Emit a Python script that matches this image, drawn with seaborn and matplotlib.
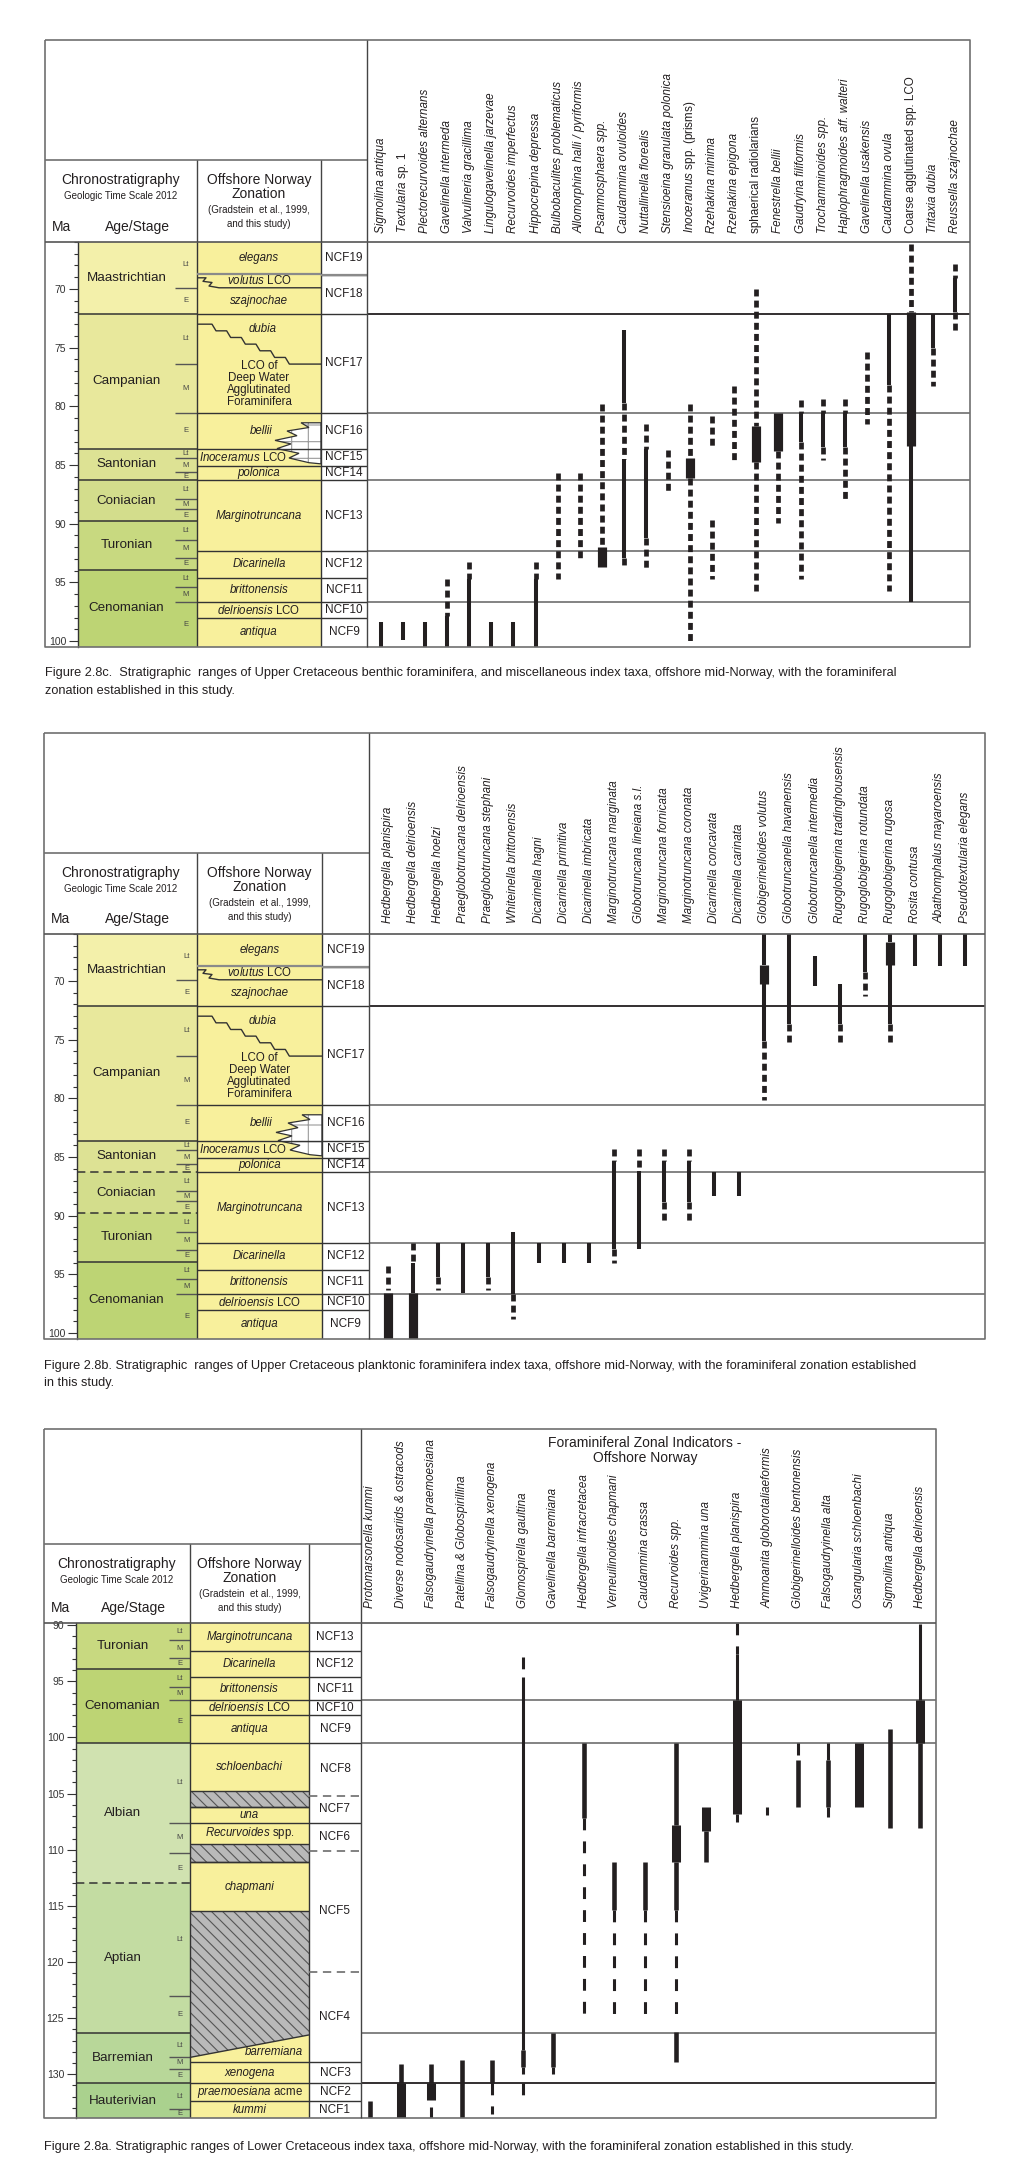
import numpy as np
import pandas as pd
import matplotlib.pyplot as plt
import seaborn as sns
from matplotlib.patches import Polygon
from matplotlib.ticker import MultipleLocator

sns.set_theme(style="white")
plt.rcParams["font.family"] = ["Liberation Sans", "DejaVu Sans"]
plt.rcParams.update({
    "mathtext.fontset": "custom",
    "mathtext.rm": "Liberation Sans",
    "mathtext.it": "Liberation Sans:italic",
    "lines.scale_dashes": False,
    "lines.solid_capstyle": "butt",
    "lines.dash_capstyle": "butt",
    "hatch.linewidth": 0.8,
    "text.color": "#231f20",
})

# ---------------- chronostratigraphy (Ma) ----------------
stage_names_upper = ["Maastrichtian", "Campanian", "Santonian", "Coniacian", "Turonian", "Cenomanian"]
stage_tops_upper = [66.0, 72.1, 83.6, 86.3, 89.8, 93.9]
stage_bases_upper = [72.1, 83.6, 86.3, 89.8, 93.9, 100.5]
stage_colors_upper = ["#f3f0aa", "#e8e89c", "#dde294", "#d3dd8c", "#c8d980", "#bdd474"]

stage_names_lower = ["Turonian", "Cenomanian", "Albian", "Aptian", "Barremian", "Hauterivian"]
stage_tops_lower = [89.8, 93.9, 100.5, 113.0, 126.3, 130.8]
stage_bases_lower = [93.9, 100.5, 113.0, 126.3, 130.8, 133.9]
stage_colors_lower = ["#c8d980", "#bdd474", "#d0e2b0", "#c3dca2", "#b8d799", "#aad18e"]

sub_labels_upper = ["Lt", "E", "Lt", "M", "E", "Lt", "M", "E", "Lt", "M", "E", "Lt", "M", "E", "Lt", "M", "E"]
sub_tops_upper = [66.0, 69.9, 72.1, 76.4, 80.6, 83.6, 84.4, 85.6, 86.3, 87.9, 88.75, 89.8, 91.4, 92.9, 93.9, 95.4, 96.7]
sub_bases_upper = [69.9, 72.1, 76.4, 80.6, 83.6, 84.4, 85.6, 86.3, 87.9, 88.75, 89.8, 91.4, 92.9, 93.9, 95.4, 96.7, 100.5]

sub_labels_lower = ["Lt", "M", "E", "Lt", "M", "E", "Lt", "M", "E", "Lt", "E", "Lt", "M", "E", "Lt", "E"]
sub_tops_lower = [89.8, 91.3, 92.9, 93.9, 95.5, 96.7, 100.5, 107.6, 110.3, 113.0, 123.0, 126.3, 128.5, 129.5, 130.8, 133.1]
sub_bases_lower = [91.3, 92.9, 93.9, 95.5, 96.7, 100.5, 107.6, 110.3, 113.0, 123.0, 126.3, 128.5, 129.5, 130.8, 133.1, 133.9]

# ---------------- zonation ----------------
zone_names_upper = ["elegans", r"$\mathit{volutus}$ LCO", "szajnochae", "dubia",
                    "LCO of\nDeep Water\nAgglutinated\nForaminifera", "bellii",
                    r"$\mathit{Inoceramus}$ LCO", "polonica", "Marginotruncana", "Dicarinella",
                    "brittonensis", r"$\mathit{delrioensis}$ LCO", "antiqua"]
zone_label_ma_upper = [67.35, 69.3, 71.0, 73.4, 78.1, 82.1, 84.35, 85.7, 89.3, 93.45, 95.65, 97.35, 99.25]
zone_lines_upper = [68.7, 72.1, 80.6, 83.6, 85.1, 86.3, 92.3, 94.6, 96.7, 98.0]

ncf_names_upper = ["NCF19", "NCF18", "NCF17", "NCF16", "NCF15", "NCF14", "NCF13", "NCF12", "NCF11", "NCF10", "NCF9"]
ncf_tops_upper = [66.0, 68.8, 72.1, 80.6, 83.6, 85.1, 86.3, 92.3, 94.6, 96.7, 98.0]
ncf_bases_upper = [68.8, 72.1, 80.6, 83.6, 85.1, 86.3, 92.3, 94.6, 96.7, 98.0, 100.5]

zone_names_lower = ["Marginotruncana", "Dicarinella", "brittonensis", r"$\mathit{delrioensis}$ LCO",
                    "antiqua", "schloenbachi", "una", r"$\mathit{Recurvoides}$ spp.", "chapmani",
                    "barremiana", "xenogena", r"$\mathit{praemoesiana}$ acme", "kummi"]
zone_label_ma_lower = [91.05, 93.45, 95.65, 97.35, 99.25, 102.65, 106.9, 108.55, 113.3, 128.0, 129.85, 131.6, 133.15]
zone_lines_lower = [92.3, 94.6, 96.7, 98.0, 100.5, 104.8, 106.2, 107.6, 109.5, 111.1, 115.5, 128.9, 130.8, 132.4]
hatch_tops = [104.8, 109.5, 115.5]
hatch_bases_left = [106.2, 111.1, 128.5]
hatch_bases_right = [106.2, 111.1, 126.5]

ncf_names_lower = ["NCF13", "NCF12", "NCF11", "NCF10", "NCF9", "NCF8", "NCF7", "NCF6", "NCF5", "NCF4", "NCF3", "NCF2", "NCF1"]
ncf_tops_lower = [89.8, 92.3, 94.6, 96.7, 98.0, 100.5, 105.2, 107.6, 110.1, 120.9, 128.9, 130.8, 132.4]
ncf_bases_lower = [92.3, 94.6, 96.7, 98.0, 100.5, 105.2, 107.6, 110.1, 120.9, 128.9, 130.8, 132.4, 133.9]
ncf_dashed_lower = [105.2, 110.1, 120.9]

# ---------------- taxa and ranges (col, top Ma, base Ma, kind) ----------------
taxa_c = ["Sigmoilina antiqua", r"$\mathit{Textularia}$ sp. 1", "Plectorecurvoides alternans",
          "Gavelinella intermeda", "Valvulineria gracillima", "Lingulogavelinella jarzevae",
          "Recurvoides imperfectus", "Hippocrepina depressa", "Bulbobaculites problematicus",
          "Allomorphina halli / pyriformis", "Psammosphaera spp.", "Caudammina ovuloides",
          "Nuttallinella florealis", "Stensioeina granulata polonica", r"$\mathit{Inoceramus}$ spp. (prisms)",
          "Rzehakina minima", "Rzehakina epigona", "sphaerical radiolarians", "Fenestrella bellii",
          "Gaudryina filiformis", "Trochamminoides spp.", "Haplophragmoides aff. walteri",
          "Gavelinella usakensis", "Caudammina ovula", "Coarse agglutinated spp. LCO",
          "Tritaxia dubia", "Reussella szajnochae"]
upright_c = ["sphaerical radiolarians", "Coarse agglutinated spp. LCO"]
ranges_c = [
    (0, 98.4, 100.5, "s"), (1, 98.4, 99.9, "s"), (2, 98.4, 100.5, "s"),
    (3, 94.7, 97.9, "d"), (3, 97.9, 100.5, "s"),
    (4, 93.3, 94.7, "d"), (4, 94.7, 100.5, "s"),
    (5, 98.4, 100.5, "s"), (6, 98.4, 100.5, "s"),
    (7, 93.3, 94.7, "d"), (7, 94.7, 100.5, "s"),
    (8, 85.7, 94.7, "d"), (9, 85.7, 93.0, "d"),
    (10, 79.8, 92.0, "d"), (10, 92.0, 93.7, "t"),
    (11, 73.5, 79.7, "s"), (11, 79.7, 84.5, "d"), (11, 84.5, 92.9, "s"), (11, 92.9, 93.8, "d"),
    (12, 81.5, 83.6, "d"), (12, 83.6, 91.2, "s"), (12, 91.2, 93.8, "d"),
    (13, 83.7, 87.2, "d"),
    (14, 79.8, 84.4, "d"), (14, 84.4, 86.1, "t"), (14, 86.1, 100.2, "d"),
    (15, 80.8, 83.6, "d"), (15, 89.7, 94.7, "d"),
    (16, 78.3, 84.6, "d"),
    (17, 70.0, 81.7, "d"), (17, 81.7, 84.7, "t"), (17, 84.7, 95.7, "d"),
    (18, 80.6, 83.8, "t"), (18, 83.8, 89.9, "d"),
    (19, 79.5, 80.6, "d"), (19, 80.6, 83.0, "s"), (19, 83.0, 94.7, "d"),
    (20, 79.4, 80.6, "d"), (20, 80.6, 83.5, "s"), (20, 83.5, 84.6, "d"),
    (21, 79.4, 80.6, "d"), (21, 80.6, 83.5, "s"), (21, 83.5, 87.9, "d"),
    (22, 75.4, 81.5, "d"),
    (23, 72.1, 78.2, "s"), (23, 78.2, 95.7, "d"),
    (24, 66.2, 72.0, "d"), (24, 72.0, 83.4, "t"), (24, 83.4, 96.7, "s"),
    (25, 72.1, 75.0, "s"), (25, 75.0, 78.3, "d"),
    (26, 67.9, 69.1, "d"), (26, 69.1, 72.0, "s"), (26, 72.0, 73.6, "d"),
]
range_lines_c = [72.1, 80.6, 86.3, 92.3, 96.7]

taxa_b = ["Hedbergella planispira", "Hedbergella delrioensis", "Hedbergella hoelzi",
          "Praeglobotruncana delrioensis", "Praeglobotruncana stephani", "Whiteinella brittonensis",
          "Dicarinella hagni", "Dicarinella primitiva", "Dicarinella imbricata",
          "Marginotruncana marginata", "Globotruncana lineiana s.l.", "Marginotruncana fornicata",
          "Marginotruncana coronata", "Dicarinella concavata", "Dicarinella carinata",
          "Globigerinelloides volutus", "Globotruncanella havanensis", "Globotruncanella intermedia",
          "Rugoglobigerina tradinghousensis", "Rugoglobigerina rotundata", "Rugoglobigerina rugosa",
          "Rosita contusa", "Abathomphalus mayaroensis", "Pseudotextularia elegans"]
ranges_b = [
    (0, 94.3, 96.3, "d"), (0, 96.6, 100.5, "t"),
    (1, 92.3, 94.0, "d"), (1, 94.0, 96.6, "s"), (1, 96.6, 100.5, "t"),
    (2, 92.3, 95.2, "s"), (2, 95.2, 96.3, "d"),
    (3, 92.3, 96.6, "s"),
    (4, 92.3, 95.2, "s"), (4, 95.2, 96.3, "d"),
    (5, 91.4, 96.7, "s"), (5, 96.7, 98.8, "d"),
    (6, 92.3, 94.0, "s"), (7, 92.3, 94.0, "s"), (8, 92.3, 94.0, "s"),
    (9, 84.3, 85.3, "d"), (9, 85.3, 92.8, "s"), (9, 92.8, 94.0, "d"),
    (10, 84.3, 86.2, "d"), (10, 86.2, 92.8, "s"),
    (11, 84.3, 85.3, "d"), (11, 85.3, 88.8, "s"), (11, 88.8, 90.5, "d"),
    (12, 84.3, 85.3, "d"), (12, 85.3, 88.8, "s"), (12, 88.8, 90.5, "d"),
    (13, 86.3, 88.3, "s"), (14, 86.3, 88.3, "s"),
    (15, 66.0, 68.6, "s"), (15, 68.6, 70.3, "t"), (15, 70.3, 75.1, "s"), (15, 75.1, 80.1, "d"),
    (16, 66.0, 73.7, "s"), (16, 73.7, 75.2, "d"),
    (17, 67.9, 70.4, "s"),
    (18, 70.3, 73.7, "s"), (18, 73.7, 75.2, "d"),
    (19, 66.0, 69.2, "s"), (19, 69.2, 71.3, "d"),
    (20, 66.0, 66.7, "s"), (20, 66.7, 68.6, "t"), (20, 68.6, 73.7, "s"), (20, 73.7, 75.2, "d"),
    (21, 66.0, 68.7, "s"), (22, 66.0, 68.7, "s"), (23, 66.0, 68.7, "s"),
]
range_lines_b = [72.1, 80.6, 86.3, 92.3, 96.7]

taxa_a = ["Protomarsonella kummi", "Diverse nodosariids & ostracods", "Falsogaudryinella praemoesiana",
          "Patellina & Globospirillina", "Falsogaudryinella xenogena", "Glomospirella gaultina",
          "Gavelinella barremiana", "Hedbergella infracretacea", "Verneuilinoides chapmani",
          "Caudammina crassa", "Recurvoides spp.", "Uvigerinammina una", "Hedbergella planispira",
          "Ammoanita globorotaliaeformis", "Globigerinelloides bentonensis", "Falsogaudryinella alta",
          "Osangularia schloenbachi", "Sigmoilina antiqua", "Hedbergella delrioensis"]
ranges_a = [
    (0, 132.4, 133.9, "m"),
    (1, 129.1, 130.8, "m"), (1, 130.8, 133.9, "t"),
    (2, 129.1, 130.8, "m"), (2, 130.8, 132.3, "t"), (2, 132.9, 133.9, "d"),
    (3, 128.7, 133.9, "m"),
    (4, 128.7, 130.8, "m"), (4, 130.8, 133.5, "d"),
    (5, 92.8, 94.6, "d"), (5, 94.6, 127.8, "s"), (5, 127.8, 129.4, "m"), (5, 129.4, 130.0, "s"),
    (5, 130.8, 132.2, "d"),
    (6, 126.3, 129.4, "m"), (6, 129.4, 130.0, "s"),
    (7, 100.5, 107.2, "m"), (7, 107.2, 125.3, "d"),
    (8, 111.1, 115.4, "m"), (8, 115.4, 125.0, "d"),
    (9, 111.1, 115.4, "m"), (9, 115.4, 125.0, "d"),
    (10, 100.5, 107.8, "m"), (10, 107.8, 111.1, "t"), (10, 111.1, 115.4, "m"), (10, 115.4, 125.0, "d"),
    (10, 126.2, 128.9, "m"),
    (11, 106.2, 108.3, "t"), (11, 108.3, 111.1, "m"),
    (12, 89.8, 92.6, "d"), (12, 92.6, 96.7, "s"), (12, 96.7, 106.8, "t"), (12, 106.8, 107.5, "s"),
    (13, 106.2, 106.9, "s"),
    (14, 100.5, 101.6, "s"), (14, 102.0, 106.2, "m"),
    (15, 100.5, 102.0, "s"), (15, 102.0, 106.2, "m"), (15, 106.2, 107.1, "s"),
    (16, 100.5, 106.2, "t"),
    (17, 99.2, 108.1, "m"),
    (18, 89.9, 96.7, "s"), (18, 96.7, 100.5, "t"), (18, 100.5, 108.1, "m"),
]
range_lines_a = [96.7, 100.5, 126.3, 130.8]

captions_c = ["Figure 2.8c.  Stratigraphic  ranges of Upper Cretaceous benthic foraminifera, and miscellaneous index taxa, offshore mid-Norway, with the foraminiferal",
              "zonation established in this study."]
captions_b = ["Figure 2.8b. Stratigraphic  ranges of Upper Cretaceous planktonic foraminifera index taxa, offshore mid-Norway, with the foraminiferal zonation established",
              "in this study."]
captions_a = ["Figure 2.8a. Stratigraphic ranges of Lower Cretaceous index taxa, offshore mid-Norway, with the foraminiferal zonation established in this study."]

# ---------------- layout (pixels) ----------------
W, H = 1020, 2163
LAY = {
    "c": dict(x0=45, xs=78, xsub=175, xz=197, xn=321, xr=367, x1=970, ytop=40, yhdr=160, ydat=242,
              ybot=647, ma_top=66.0, ma_bot=100.5, first=381, step=22.08, pad=6.5, cap_y=[673, 691]),
    "b": dict(x0=44, xs=77, xsub=176, xz=197, xn=322, xr=369, x1=985, ytop=733, yhdr=853, ydat=934,
              ybot=1339, ma_top=66.0, ma_bot=100.5, first=388, step=25.09, pad=8, cap_y=[1366, 1383]),
    "a": dict(x0=44, xs=76, xsub=169, xz=190, xn=309, xr=361, x1=936, ytop=1429, yhdr=1544, ydat=1623,
              ybot=2118, ma_top=89.8, ma_bot=133.9, first=370, step=30.56, pad=11, cap_y=[2147]),
}
INK = "#231f20"
FRAME = "#707070"
ZONE_YELLOW = "#f8f09c"

fig = plt.figure(figsize=(W / 100, H / 100), dpi=100)


def px_axes(x0, y0, x1, y1, **kw):
    return fig.add_axes([x0 / W, 1 - y1 / H, (x1 - x0) / W, (y1 - y0) / H], **kw)


def draw_strat(L, stages, subs, dashed_bounds):
    ax = px_axes(L["xs"], L["ydat"], L["xr"], L["ybot"])
    ax.set_facecolor("white")
    ax.set_xlim(L["xs"], L["xr"])
    ax.set_ylim(L["ma_bot"], L["ma_top"])
    for name, top, base, col in zip(*stages):
        ax.fill_betweenx([top, base], L["xs"], L["xz"], color=col, lw=0)
        ax.text((L["xs"] + L["xsub"]) / 2, (top + base) / 2, name, ha="center", va="center", fontsize=9.6)
        if base < L["ma_bot"]:
            ls = (0, (6, 3.5)) if base in dashed_bounds else "-"
            ax.hlines(base, L["xs"], L["xz"], colors="#333333", lw=1.1, linestyles=ls)
    for lab, top, base in zip(*subs):
        ax.text((L["xsub"] + L["xz"]) / 2, (top + base) / 2, lab, ha="center", va="center",
                fontsize=5.5, color="#444444")
        if base < L["ma_bot"] and base not in stages[2]:
            ax.hlines(base, L["xsub"], L["xz"], colors="#555555", lw=1.0)
    ax.fill_betweenx([L["ma_top"], L["ma_bot"]], L["xz"], L["xn"], color=ZONE_YELLOW, lw=0)
    ax.axvline(L["xz"], color="#333333", lw=1.0)
    ax.axvline(L["xn"], color="#333333", lw=1.0)
    ax.set_xticks([])
    ax.yaxis.set_major_locator(MultipleLocator(5))
    ax.yaxis.set_minor_locator(MultipleLocator(1))
    ax.tick_params(axis="y", which="both", left=True, direction="out", colors="#333333",
                   labelsize=7.5, pad=2)
    ax.tick_params(axis="y", which="major", length=6.5, width=0.8)
    ax.tick_params(axis="y", which="minor", length=3.2, width=0.8)
    for s in ["top", "bottom", "right"]:
        ax.spines[s].set_visible(False)
    ax.spines["left"].set_color("#333333")
    ax.spines["left"].set_linewidth(1.0)
    return ax


def draw_ncf(ax, L, names, tops, bases, dashed=()):
    xm = (L["xn"] + L["xr"]) / 2
    for name, top, base in zip(names, tops, bases):
        ax.text(xm, (top + base) / 2, name, ha="center", va="center", fontsize=8.5)
        if base < L["ma_bot"]:
            if base in dashed:
                ax.hlines(base, L["xn"], L["xr"], colors="#777777", lw=1.3, linestyles=(0, (6, 4)))
            else:
                ax.hlines(base, L["xn"], L["xr"], colors="#333333", lw=1.0)


def draw_zone_labels(ax, L, names, mas, xs_override=None):
    xm = (L["xz"] + L["xn"]) / 2
    for i, (name, ma) in enumerate(zip(names, mas)):
        x = xm if xs_override is None or i not in xs_override else xs_override[i]
        style = "normal" if ("$" in name or "LCO of" in name) else "italic"
        ax.text(x, ma, name, ha="center", va="center", fontsize=8.3, fontstyle=style,
                linespacing=1.0)


def draw_ranges(L, taxa, ranges, hlines, widths, dash, upright=()):
    ax = px_axes(L["xr"], L["ydat"], L["x1"], L["ybot"])
    ax.set_facecolor("none")
    for y in hlines:
        col = INK if y == 72.1 or y == 130.8 else "#7a7a7a"
        ax.axhline(y, color=col, lw=1.3, zorder=1)
    rows = []
    for i, (col, top, base, kind) in enumerate(ranges):
        rows.append({"x": col, "ma": top, "seg": i, "kind": kind})
        rows.append({"x": col, "ma": base, "seg": i, "kind": kind})
    df = pd.DataFrame(rows)
    dash_map = {"s": "", "m": "", "t": "", "d": dash}
    sns.lineplot(data=df, x="x", y="ma", units="seg", estimator=None, style="kind", size="kind",
                 dashes=dash_map, sizes=widths, color=INK, legend=False, sort=False, ax=ax)
    ax.set_xlim((L["xr"] - L["first"]) / L["step"], (L["x1"] - L["first"]) / L["step"])
    ax.set_ylim(L["ma_bot"], L["ma_top"])
    ax.set_xlabel("")
    ax.set_ylabel("")
    ax.set_yticks([])
    ax.set_xticks(range(len(taxa)))
    ax.set_xticklabels(taxa, rotation=90, fontsize=8.4)
    ax.xaxis.tick_top()
    ax.tick_params(axis="x", length=0, pad=L["pad"], top=True, bottom=False,
                   labeltop=True, labelbottom=False, colors=INK)
    for lbl, name in zip(ax.get_xticklabels(), taxa):
        lbl.set_fontstyle("normal" if ("$" in name or name in upright) else "italic")
    for s in ax.spines.values():
        s.set_visible(False)
    return ax


def zigzag_dubia(ax, L):
    xz, xn = L["xz"], L["xn"]
    xs = np.linspace(xz + 15, xz + 103, 7)
    ys = np.linspace(73.0, 76.4, 7)
    px, py = [xz], [73.0]
    for k in range(6):
        px += [xs[k], xs[k] + 4, xs[k + 1]]
        py += [ys[k], ys[k + 1], ys[k + 1]]
    px.append(xn)
    py.append(76.4)
    ax.plot(px, py, color="#333333", lw=1.0)


def zigzag_volutus(ax, L):
    xz, xn = L["xz"], L["xn"]
    px = [xz, xz + 9, xz + 6, xz + 15, xz + 12, xz + 22, xn]
    py = [69.05, 69.05, 69.35, 69.45, 69.75, 69.9, 69.9]
    ax.plot(px, py, color="#333333", lw=1.0)


def bricks(ax, L):
    xn = L["xn"]
    pts = [(xn, 81.4), (xn - 20, 81.4), (xn - 12, 81.8), (xn - 34, 82.1), (xn - 24, 82.5),
           (xn - 46, 82.9), (xn - 30, 83.2), (xn - 44, 83.6), (xn - 22, 84.0), (xn - 32, 84.4),
           (xn - 12, 84.8), (xn, 84.9)]
    ax.add_patch(Polygon(pts, closed=True, facecolor="white", edgecolor="#9a9a9a", hatch="+", lw=0))
    ax.add_patch(Polygon(pts, closed=True, facecolor="none", edgecolor="#333333", lw=0.9))


# ---------------- overlay for frames and header text ----------------
def frame(oax, L):
    x0, x1, xr = L["x0"], L["x1"], L["xr"]
    oax.plot([x0, x1, x1, x0, x0], [L["ytop"], L["ytop"], L["ybot"], L["ybot"], L["ytop"]],
             color=FRAME, lw=1.2)
    oax.plot([x0, xr], [L["yhdr"], L["yhdr"]], color=FRAME, lw=1.2)
    oax.plot([xr, xr], [L["ytop"], L["ybot"]], color="#444444", lw=1.0)
    oax.plot([x0, x1], [L["ydat"], L["ydat"]], color="#555555", lw=1.2)
    for xv in (L["xz"], L["xn"]):
        oax.plot([xv, xv], [L["yhdr"], L["ydat"]], color="#444444", lw=1.0)
    yh = L["yhdr"]
    cx = (x0 + L["xz"]) / 2
    zx = (L["xz"] + L["xn"]) / 2
    oax.text(cx, yh + 20, "Chronostratigraphy", ha="center", va="center", fontsize=10)
    oax.text(cx, yh + 36, "Geologic Time Scale 2012", ha="center", va="center", fontsize=7)
    oax.text(x0 + 17, L["ydat"] - 15, "Ma", ha="center", va="center", fontsize=10)
    oax.text((L["xs"] + L["xz"]) / 2, L["ydat"] - 15, "Age/Stage", ha="center", va="center", fontsize=10)
    oax.text(zx, yh + 20, "Offshore Norway", ha="center", va="center", fontsize=10)
    oax.text(zx, yh + 34, "Zonation", ha="center", va="center", fontsize=10)
    oax.text(zx, yh + 50, "(Gradstein  et al., 1999,", ha="center", va="center", fontsize=7)
    oax.text(zx, yh + 64, "and this study)", ha="center", va="center", fontsize=7)


stages_upper = (stage_names_upper, stage_tops_upper, stage_bases_upper, stage_colors_upper)
stages_lower = (stage_names_lower, stage_tops_lower, stage_bases_lower, stage_colors_lower)
subs_upper = (sub_labels_upper, sub_tops_upper, sub_bases_upper)
subs_lower = (sub_labels_lower, sub_tops_lower, sub_bases_lower)

# ---- upper panels (c and b) ----
for key, taxa, ranges, hl, dashed_b, upright in [
        ("c", taxa_c, ranges_c, range_lines_c, [], upright_c),
        ("b", taxa_b, ranges_b, range_lines_b, [86.3, 89.8], [])]:
    L = LAY[key]
    sax = draw_strat(L, stages_upper, subs_upper, dashed_b)
    for y in zone_lines_upper:
        gray = y == 68.7
        sax.hlines(y, L["xz"], L["xn"], colors="#8a8a8a" if gray else "#333333", lw=1.6 if gray else 1.0)
    zigzag_dubia(sax, L)
    zigzag_volutus(sax, L)
    bricks(sax, L)
    draw_zone_labels(sax, L, zone_names_upper, zone_label_ma_upper,
                     {3: L["xz"] + 66, 5: L["xz"] + 64, 6: L["xz"] + 46})
    draw_ncf(sax, L, ncf_names_upper, ncf_tops_upper, ncf_bases_upper)
    sax.hlines(68.8, L["xn"], L["xr"], colors="#8a8a8a", lw=1.6)
    widths = {"s": 2.9, "m": 3.3, "t": 6.6, "d": 3.4}
    draw_ranges(L, taxa, ranges, hl, widths, (5.0, 3.0), upright)

# ---- lower panel (a) ----
L = LAY["a"]
sax = draw_strat(L, stages_lower, subs_lower, [113.0])
for y in zone_lines_lower:
    sax.hlines(y, L["xz"], L["xn"], colors="#333333", lw=1.0)
for top, bl, br in zip(hatch_tops, hatch_bases_left, hatch_bases_right):
    pts = [(L["xz"], top), (L["xn"], top), (L["xn"], br), (L["xz"], bl)]
    sax.add_patch(Polygon(pts, closed=True, facecolor="#b9b9b9", edgecolor="#555555",
                          hatch="\\\\\\", lw=0))
    sax.plot([L["xz"], L["xn"]], [bl, br], color="#333333", lw=1.0)
draw_zone_labels(sax, L, zone_names_lower, zone_label_ma_lower, {9: L["xz"] + 84})
draw_ncf(sax, L, ncf_names_lower, ncf_tops_lower, ncf_bases_lower, ncf_dashed_lower)
draw_ranges(L, taxa_a, ranges_a, range_lines_a, {"s": 2.2, "m": 3.3, "t": 6.5, "d": 2.2}, (8.5, 8.0))

oax = fig.add_axes([0, 0, 1, 1], zorder=10)
oax.set_xlim(0, W)
oax.set_ylim(H, 0)
oax.axis("off")
oax.patch.set_alpha(0)
for key, caps in [("c", captions_c), ("b", captions_b), ("a", captions_a)]:
    L = LAY[key]
    frame(oax, L)
    for y, line in zip(L["cap_y"], caps):
        oax.text(L["x0"], y, line, ha="left", va="center", fontsize=9.2)
oax.text(645, 1443, "Foraminiferal Zonal Indicators -", ha="center", va="center", fontsize=10)
oax.text(645, 1458, "Offshore Norway", ha="center", va="center", fontsize=10)

fig.savefig("out.png", dpi=100)
